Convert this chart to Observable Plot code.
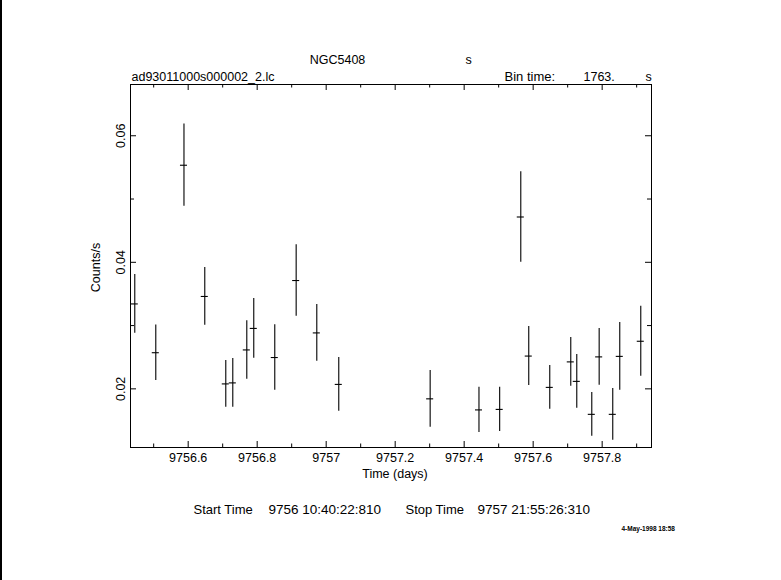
<!DOCTYPE html>
<html>
<head>
<meta charset="utf-8">
<script src="https://cdn.jsdelivr.net/npm/d3@7"></script>
<script src="https://cdn.jsdelivr.net/npm/@observablehq/plot@0.6"></script>
<style>
  html, body { margin: 0; padding: 0; background: #fff; }
  #wrap { position: relative; width: 781px; height: 580px; overflow: hidden; }
  #edge { position: absolute; left: 0; top: 0; width: 2px; height: 580px; background: #000; }
</style>
</head>
<body>
<div id="wrap"><div id="edge"></div></div>
<script>
// ---- data ----
const times = [9756.4452, 9756.5061, 9756.5878, 9756.6481, 9756.7090, 9756.7293, 9756.7699, 9756.7901,
  9756.8510, 9756.9130, 9756.9728, 9757.0365, 9757.3014, 9757.4429, 9757.5029, 9757.5641, 9757.5872,
  9757.6481, 9757.7090, 9757.7264, 9757.7699, 9757.7913, 9757.8307, 9757.8510, 9757.9119];
const rates = [0.03342, 0.02571, 0.05534, 0.03460, 0.02078, 0.02094, 0.02615, 0.02955, 0.02495, 0.03712,
  0.02884, 0.02070, 0.01842, 0.01667, 0.01675, 0.04716, 0.02518, 0.02023, 0.02426, 0.02118, 0.01597,
  0.02505, 0.01597, 0.02513, 0.02752];
const errors = [0.00464, 0.00440, 0.00650, 0.00456, 0.00369, 0.00385, 0.00463, 0.00472, 0.00517, 0.00566,
  0.00448, 0.00424, 0.00448, 0.00357, 0.00349, 0.00716, 0.00466, 0.00345, 0.00385, 0.00424, 0.00345,
  0.00448, 0.00409, 0.00535, 0.00553];
const binTime = 1763; // seconds

const xMajor = [9756.6, 9756.8, 9757, 9757.2, 9757.4, 9757.6, 9757.8];
const xMinor = [9756.5, 9756.7, 9756.9, 9757.1, 9757.3, 9757.5, 9757.7, 9757.9];
const yMajor = [0.02, 0.04, 0.06];
const yMinor = [0.03, 0.05];
const xDomain = [9756.4328, 9757.943];
const yDomain = [0.01073, 0.0681];

const titleText = "NGC5408";
const fileText = "ad93011000s000002_2.lc";
const startLabel = "Start Time", startValue = "9756 10:40:22:810";
const stopLabel = "Stop Time", stopValue = "9757 21:55:26:310";
const dateText = "4-May-1998 18:58";

const W = 781, H = 580, ML = 130, MR = 130, MT = 84, MB = 133;
const PW = W - ML - MR, PH = H - MT - MB;
const halfBin = binTime / 86400 / 2;
const rows = times.map((t, i) => ({t, v: rates[i], e: errors[i]}));
const fmt = d3.format("");
const id = d => d;

const chart = Plot.plot({
  width: W,
  height: H,
  marginLeft: ML,
  marginRight: MR,
  marginTop: MT,
  marginBottom: MB,
  style: {fontFamily: "'Liberation Sans', Arial, sans-serif", fontSize: "12.5px", background: "#fff", color: "#000", overflow: "visible"},
  x: {domain: xDomain, ticks: xMajor, tickFormat: fmt, tickSize: 0, tickPadding: 6, label: null},
  y: {domain: yDomain, ticks: yMajor, tickFormat: fmt, tickSize: 0, tickPadding: 6, tickRotate: -90, label: null},
  marks: [
    Plot.frame({stroke: "#000", strokeWidth: 1}),
    // inward ticks (bottom / top)
    Plot.ruleX(xMajor, {x: id, insetTop: PH - 6}),
    Plot.ruleX(xMinor, {x: id, insetTop: PH - 3.5}),
    Plot.ruleX(xMajor, {x: id, insetBottom: PH - 6}),
    Plot.ruleX(xMinor, {x: id, insetBottom: PH - 3.5}),
    // inward ticks (left / right)
    Plot.ruleY(yMajor, {y: id, insetRight: PW - 6}),
    Plot.ruleY(yMinor, {y: id, insetRight: PW - 4}),
    Plot.ruleY(yMajor, {y: id, insetLeft: PW - 6}),
    Plot.ruleY(yMinor, {y: id, insetLeft: PW - 4}),
    // error bars
    Plot.ruleX(rows, {x: "t", y1: d => d.v - d.e, y2: d => d.v + d.e, stroke: "#000", strokeWidth: 1.1}),
    Plot.ruleY(rows, {y: "v", x1: d => d.t - halfBin, x2: d => d.t + halfBin, stroke: "#000", strokeWidth: 1.1}),
    // axis titles
    Plot.text(["Time (days)"], {frameAnchor: "bottom", text: id, dx: 4, dy: 30, lineAnchor: "bottom"}),
    Plot.text(["Counts/s"], {frameAnchor: "left", text: id, rotate: -90, dx: -35, dy: 1.5, lineAnchor: "middle", textAnchor: "middle"}),
    // header
    Plot.text([titleText], {frameAnchor: "top-left", text: id, dx: 207, dy: -21, lineAnchor: "bottom", textAnchor: "middle"}),
    Plot.text(["s"], {frameAnchor: "top-left", text: id, dx: 338, dy: -21, lineAnchor: "bottom", textAnchor: "middle"}),
    Plot.text([fileText], {frameAnchor: "top-left", text: id, dx: 1, dy: -4, lineAnchor: "bottom", textAnchor: "start"}),
    Plot.text(["Bin time:"], {frameAnchor: "top-left", text: id, dx: 374, dy: -4, lineAnchor: "bottom", textAnchor: "start", fontSize: 13}),
    Plot.text([binTime + "."], {frameAnchor: "top-left", text: id, dx: 453, dy: -4, lineAnchor: "bottom", textAnchor: "start"}),
    Plot.text(["s"], {frameAnchor: "top-left", text: id, dx: 515, dy: -4, lineAnchor: "bottom", textAnchor: "start"}),
    // footer
    Plot.text([startLabel], {frameAnchor: "bottom-left", text: id, dx: 63, dy: 66, lineAnchor: "bottom", textAnchor: "start", fontSize: 13}),
    Plot.text([startValue], {frameAnchor: "bottom-left", text: id, dx: 138, dy: 66, lineAnchor: "bottom", textAnchor: "start", fontSize: 13.5}),
    Plot.text([stopLabel], {frameAnchor: "bottom-left", text: id, dx: 275, dy: 66, lineAnchor: "bottom", textAnchor: "start", fontSize: 13}),
    Plot.text([stopValue], {frameAnchor: "bottom-left", text: id, dx: 347, dy: 66, lineAnchor: "bottom", textAnchor: "start", fontSize: 13.5}),
    Plot.text([dateText], {frameAnchor: "bottom-left", text: id, dx: 491, dy: 83, lineAnchor: "bottom", textAnchor: "start", fontSize: 6.5, fontWeight: "bold", letterSpacing: "-0.3px"})
  ]
});
document.getElementById("wrap").prepend(chart);
</script>
</body>
</html>
